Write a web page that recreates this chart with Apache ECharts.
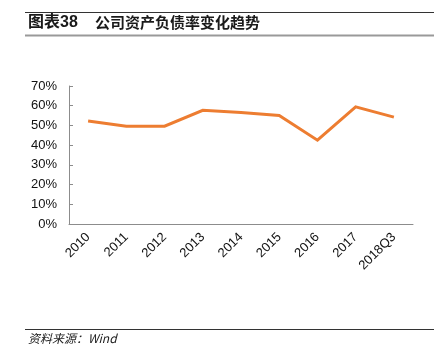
<!DOCTYPE html>
<html>
<head>
<meta charset="utf-8">
<script src="https://cdn.jsdelivr.net/npm/echarts@6/dist/echarts.min.js"></script>
<style>
  html, body { margin: 0; padding: 0; background: #fff; }
  #chart { width: 447px; height: 347px; }
</style>
</head>
<body>
<div id="chart"></div>
<script>
// Debt-to-asset ratio by year
const categories = ['2010', '2011', '2012', '2013', '2014', '2015', '2016', '2017', '2018Q3'];
const debtRatio = [52.2, 49.6, 49.6, 57.7, 56.5, 55.0, 42.5, 59.4, 54.2];
const yTicks = [0, 10, 20, 30, 40, 50, 60, 70];

const titleNo = '图表38';
const titleText = '公司资产负债率变化趋势';
const sourceText = '资料来源：Wind';

const chart = echarts.init(document.getElementById('chart'));
const axisGray = '#8c8c8c';
const fontFam = '"Liberation Sans", Arial, "Noto Sans CJK SC", sans-serif';

chart.setOption({
  animation: false,
  backgroundColor: '#fff',
  grid: { left: 69, right: 34, top: 86, bottom: 123, containLabel: false },
  xAxis: {
    type: 'category',
    data: categories,
    boundaryGap: true,
    axisLine: { lineStyle: { color: axisGray, width: 1 } },
    axisTick: { inside: true, length: 5, lineStyle: { color: axisGray } },
    axisLabel: { rotate: 45, color: '#111', fontSize: 13, fontFamily: fontFam, margin: 11, interval: 0 },
    splitLine: { show: false }
  },
  yAxis: {
    type: 'value',
    min: yTicks[0],
    max: yTicks[yTicks.length - 1],
    interval: 10,
    axisLine: { show: true, lineStyle: { color: axisGray, width: 1 } },
    axisTick: { show: true, inside: true, length: 4, lineStyle: { color: axisGray } },
    axisLabel: { color: '#111', fontSize: 13, fontFamily: fontFam, margin: 12, formatter: v => v + '%' },
    splitLine: { show: false }
  },
  series: [{
    type: 'line',
    data: debtRatio,
    symbol: 'none',
    lineStyle: { color: '#ED7D31', width: 3, join: 'miter' },
    itemStyle: { color: '#ED7D31' }
  }],
  graphic: [
    { type: 'line', shape: { x1: 25, y1: 12.5, x2: 434, y2: 12.5 }, style: { stroke: '#333', lineWidth: 1 } },
    { type: 'text', left: 28, top: 15, style: { text: titleNo, font: 'bold 16px ' + fontFam, fill: '#1a1a1a' } },
    { type: 'text', left: 95, top: 15, style: { text: titleText, font: 'bold 15px "Noto Sans CJK SC", sans-serif', fill: '#1a1a1a' } },
    { type: 'line', shape: { x1: 25, y1: 35.5, x2: 434, y2: 35.5 }, style: { stroke: '#999', lineWidth: 2 } },
    { type: 'line', shape: { x1: 25, y1: 329.5, x2: 434, y2: 329.5 }, style: { stroke: '#333', lineWidth: 1 } },
    { type: 'text', left: 28, top: 332, style: { text: sourceText, font: 'italic 12px "Noto Sans CJK SC", ' + fontFam, fill: '#222' } }
  ]
});
</script>
</body>
</html>
